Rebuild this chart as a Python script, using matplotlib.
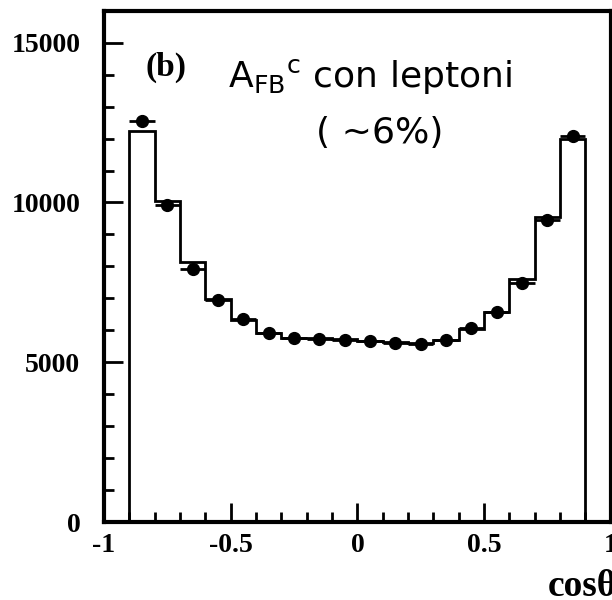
import numpy as np
import matplotlib
matplotlib.use("Agg")
import matplotlib.pyplot as plt
from matplotlib.ticker import MultipleLocator

# bin edges of cos(theta) and contents
edges = np.round(np.arange(-0.9, 0.9001, 0.1), 2)
mc_counts = [12240, 10040, 8130, 6980, 6330, 5910, 5765, 5750, 5720, 5670,
             5630, 5610, 5690, 6030, 6570, 7610, 9540, 11990]
data_counts = [12560, 9930, 7930, 6950, 6365, 5910, 5750, 5730, 5705, 5670,
               5610, 5575, 5690, 6065, 6570, 7495, 9440, 12070]

centers = 0.5 * (edges[:-1] + edges[1:])
half_width = 0.05

serif = ["Liberation Serif", "DejaVu Serif"]

fig = plt.figure(figsize=(6.12, 6.0), dpi=100)
ax = fig.add_axes([0.170, 0.130, 0.828, 0.852])

ax.stairs(mc_counts, edges, baseline=0, color="black", lw=2.0)
ax.errorbar(centers, data_counts, xerr=half_width, fmt="o", color="black",
            ms=8.5, elinewidth=2.0, capsize=0)

ax.set_xlim(-1, 1)
ax.set_ylim(0, 16000)
ax.set_xticks([-1, -0.5, 0, 0.5, 1])
ax.set_xticklabels(["-1", "-0.5", "0", "0.5", "1"])
ax.set_yticks([0, 5000, 10000, 15000])
ax.xaxis.set_minor_locator(MultipleLocator(0.1))
ax.yaxis.set_minor_locator(MultipleLocator(1000))

ax.tick_params(which="both", direction="in", width=2.0, top=False, right=False)
ax.tick_params(which="major", length=14)
ax.tick_params(which="minor", length=7)
ax.tick_params(axis="y", pad=17)
ax.tick_params(axis="x", pad=8)
for lab in ax.get_xticklabels() + ax.get_yticklabels():
    lab.set_family(serif)
    lab.set_fontweight("bold")
    lab.set_fontsize(20)

for sp in ax.spines.values():
    sp.set_linewidth(3.0)

ax.text(0.081, 0.89, "(b)", transform=ax.transAxes, family=serif,
        fontweight="bold", fontsize=24, va="center", ha="left")
ax.text(0.245, 0.851, r"$\mathregular{A_{FB}{}^{c}}$ con leptoni",
        transform=ax.transAxes, family="DejaVu Sans", fontsize=26,
        va="baseline", ha="left")
ax.text(0.544, 0.761, "( ~6%)", transform=ax.transAxes, family="DejaVu Sans",
        fontsize=26, va="center", ha="center")

fig.text(548 / 612, 1 - 587 / 600, "cosθ", family=serif, fontweight="bold",
         fontsize=27, va="center", ha="left")

fig.savefig("out.png", dpi=100)
